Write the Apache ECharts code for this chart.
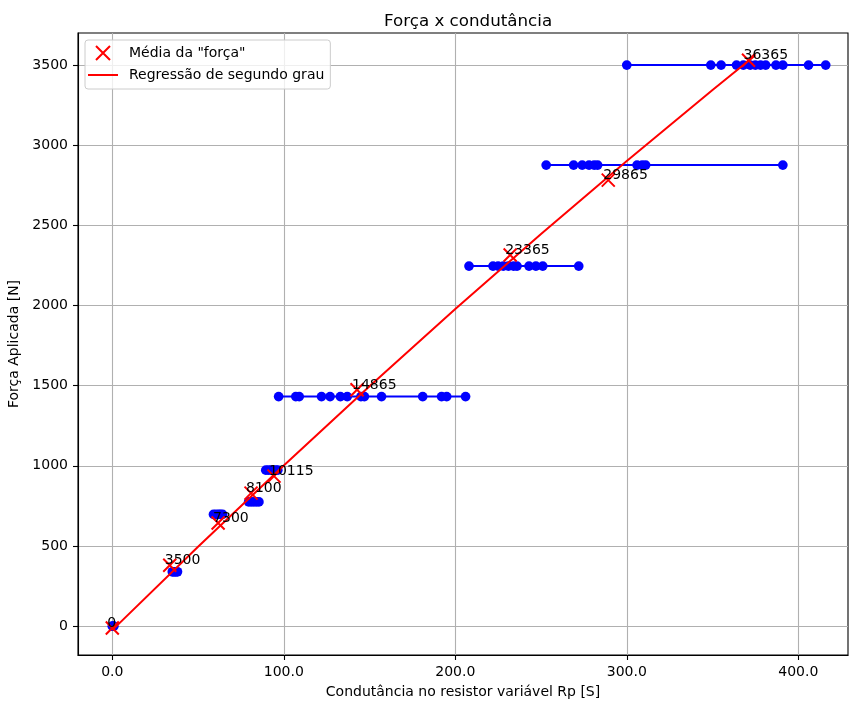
<!DOCTYPE html>
<html>
<head>
<meta charset="utf-8">
<script src="https://cdn.jsdelivr.net/npm/echarts@6/dist/echarts.min.js"></script>
<style>
  html, body { margin: 0; padding: 0; background: #ffffff; }
  #chart { width: 850px; height: 702px; }
</style>
</head>
<body>
<div id="chart"></div>
<script>
// Applied force levels [N] and the conductance readings [S] taken at each level
const forceLevels = [0, 339, 697, 775, 973, 1432, 2246, 2876, 3500];
const cond0 = [0, 0.4, 0.9];
const cond339 = [35, 36, 37, 38];
const cond697 = [59, 60.5, 62, 63, 64.3];
const cond775 = [79.5, 81, 82.5, 84, 85.5];
const cond973 = [89.5, 91, 92.5, 94, 95.5, 96.5];
const cond1432 = [97, 107, 109, 122, 127, 133, 137, 145, 147, 157, 181, 192, 195, 206];
const cond2246 = [208, 222, 225, 228, 231, 234, 236, 243, 247, 251, 272];
const cond2876 = [253, 269, 274, 278, 281, 283, 306, 309, 311, 391];
const cond3500 = [300, 349, 355, 364, 368, 372, 375, 378, 381, 387, 391, 406, 416];
const condByLevel = [cond0, cond339, cond697, cond775, cond973, cond1432, cond2246, cond2876, cond3500];

// Mean points ("Média da força") and their annotations
const meanCond = [0, 33.5, 61.7, 80.9, 94.3, 142.7, 232, 289.2, 371];
const meanForce = [-12, 380, 643, 830, 936, 1475, 2315, 2782, 3530];
const meanLabels = ['0', '3500', '7300', '8100', '10115', '14865', '23365', '29865', '36365'];

// Second-degree regression curve, sampled
const regCond = [0, 50, 100, 150, 200, 250, 300, 350, 375];
const regForce = [-25, 495, 1002, 1496, 1978, 2446, 2902, 3344, 3561];

// Axis ticks
const xTicks = [0, 100, 200, 300, 400];
const yTicks = [0, 500, 1000, 1500, 2000, 2500, 3000, 3500];

const FONT = 'DejaVu Sans';
const xMarker = 'path://M0,0L10,10M10,0L0,10';
const lineIcon = 'path://M0,0L30,0L30,2L0,2Z';

const chart = echarts.init(document.getElementById('chart'), null, { renderer: 'canvas' });

const levelSeries = forceLevels.map((f, i) => ({
  type: 'line',
  name: 'nivel' + i,
  data: condByLevel[i].map(c => [c, f]),
  symbol: 'circle',
  symbolSize: 9.7,
  showSymbol: true,
  itemStyle: { color: '#0000ff', opacity: 1 },
  lineStyle: { color: '#0000ff', width: 2 },
  z: 2,
  silent: true
}));

const axisCommon = {
  axisLine: { show: true, onZero: false, lineStyle: { color: '#000000', width: 1.1 } },
  axisTick: { show: true, inside: false, length: 5, lineStyle: { color: '#000000', width: 1.1 } },
  axisLabel: { color: '#000000', fontFamily: FONT, fontSize: 14, margin: 10 },
  splitLine: { show: true, lineStyle: { color: '#b0b0b0', width: 1.1 } },
  nameTextStyle: { color: '#000000', fontFamily: FONT, fontSize: 14 },
  nameLocation: 'middle'
};

const option = {
  backgroundColor: '#ffffff',
  animation: false,
  title: {
    text: 'Força x condutância',
    left: 379,
    top: 8,
    textStyle: { fontFamily: FONT, fontSize: 16.7, fontWeight: 'normal', color: '#000000' }
  },
  grid: {
    left: 78, right: 2, top: 33, bottom: 47,
    containLabel: false,
    outerBoundsMode: 'none',
    show: true, borderColor: '#000000', borderWidth: 1.1, backgroundColor: 'transparent'
  },
  legend: {
    orient: 'vertical',
    left: 85, top: 40,
    padding: [5, 6, 7, 3],
    itemWidth: 30, itemHeight: 14, itemGap: 7,
    backgroundColor: 'rgba(255,255,255,0.8)',
    borderColor: '#cccccc', borderWidth: 1, borderRadius: 3,
    textStyle: { fontFamily: FONT, fontSize: 14, color: '#000000', padding: [0, 0, 0, 6] },
    data: [
      { name: 'Média da "força"' },
      { name: 'Regressão de segundo grau', icon: lineIcon, itemStyle: { color: '#ff0000' } }
    ]
  },
  xAxis: Object.assign({}, axisCommon, {
    type: 'value',
    min: -20, max: 429,
    name: 'Condutância no resistor variável Rp [S]',
    nameGap: 30,
    axisTick: Object.assign({}, axisCommon.axisTick, { customValues: xTicks }),
    axisLabel: Object.assign({}, axisCommon.axisLabel, {
      customValues: xTicks,
      formatter: v => v.toFixed(1)
    })
  }),
  yAxis: Object.assign({}, axisCommon, {
    type: 'value',
    min: -180, max: 3700,
    name: 'Força Aplicada [N]',
    nameGap: 52,
    axisTick: Object.assign({}, axisCommon.axisTick, { customValues: yTicks }),
    axisLabel: Object.assign({}, axisCommon.axisLabel, {
      customValues: yTicks,
      formatter: v => String(v)
    })
  }),
  series: levelSeries.concat([
    {
      type: 'line',
      name: 'Regressão de segundo grau',
      data: regCond.map((c, i) => [c, regForce[i]]),
      symbol: 'none',
      showSymbol: false,
      lineStyle: { color: '#ff0000', width: 2 },
      itemStyle: { color: '#ff0000' },
      z: 3,
      silent: true
    },
    {
      type: 'scatter',
      name: 'Média da "força"',
      data: meanCond.map((c, i) => ({ value: [c, meanForce[i]], name: meanLabels[i] })),
      symbol: xMarker,
      symbolSize: 13,
      itemStyle: { color: '#ff0000', borderColor: '#ff0000', borderWidth: 2, opacity: 1 },
      label: {
        show: true,
        formatter: '{b}',
        position: [2.5, 10],
        align: 'left',
        verticalAlign: 'bottom',
        fontFamily: FONT,
        fontSize: 14,
        color: '#000000',
        textBorderWidth: 0
      },
      z: 4,
      silent: true
    }
  ])
};

chart.setOption(option);
</script>
</body>
</html>
